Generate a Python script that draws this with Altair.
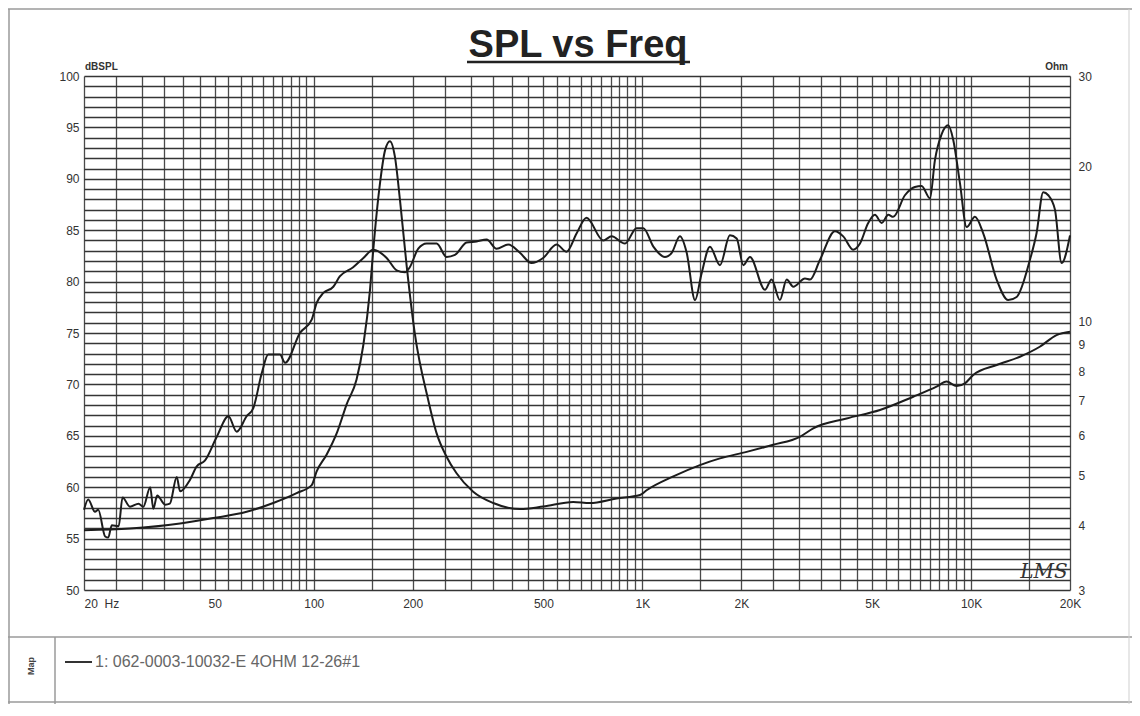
import altair as alt
import pandas as pd

# ---- data ----
spl_freq = [20, 20.6, 21.6, 22.1, 23.2, 23.7, 24.3, 25.5, 26.2, 27.6, 29.3, 30.3, 31.8, 32.5, 33.4,
            35.3, 36.5, 38.3, 39.2, 42.0, 44.0, 46.7, 50.7, 55.0, 58.3, 62.5, 65.5, 69.5, 72.7, 78.9,
            81.8, 90.8, 98.6, 102, 107, 114.7, 120, 131.8, 141.6, 151.8, 166.7, 178.8, 189.6, 196, 208,
            220.6, 236.6, 253.6, 269, 291.8, 313, 335.8, 360, 390.8, 424, 460, 499, 548, 588, 631,
            676, 760, 806, 885, 960, 1007, 1080, 1171, 1228, 1301, 1364, 1446, 1514, 1605, 1722,
            1846, 1936, 2028, 2124, 2360, 2472, 2620, 2748, 2878, 3124, 3236, 3468, 3854, 4084, 4376,
            4592, 4864, 5100, 5346, 5600, 5794, 6292, 6746, 7072, 7498, 7762, 8128, 8522, 8824, 9248,
            9696, 10274, 10890, 11960, 12972, 13762, 15100, 15820, 16580, 17180, 18000, 18860, 20000]
spl_db = [57.8, 58.8, 57.6, 57.8, 55.2, 55.1, 56.3, 56.2, 59.0, 58.1, 58.4, 58.1, 60.0, 57.9, 59.2,
          58.3, 58.4, 61.0, 59.6, 60.7, 62.0, 62.6, 64.9, 66.9, 65.4, 66.9, 67.7, 71.1, 72.9, 72.9,
          72.1, 75.0, 76.3, 77.9, 78.9, 79.5, 80.5, 81.4, 82.3, 83.1, 82.3, 81.1, 80.9, 81.4, 83.2,
          83.7, 83.7, 82.4, 82.6, 83.8, 83.9, 84.1, 83.2, 83.6, 82.8, 81.8, 82.3, 83.6, 82.9, 84.7,
          86.2, 84.0, 84.4, 83.7, 85.2, 85.2, 83.4, 82.4, 82.8, 84.4, 82.8, 78.2, 80.8, 83.4, 81.6,
          84.5, 84.2, 81.6, 82.4, 79.2, 80.2, 78.2, 80.2, 79.5, 80.3, 80.2, 82.1, 84.9, 84.4, 83.1,
          83.7, 85.7, 86.5, 85.7, 86.5, 86.3, 88.4, 89.2, 89.3, 88.1, 91.8, 94.3, 95.2, 93.8, 89.6,
          85.3, 86.3, 84.7, 80.2, 78.2, 78.5, 82.1, 84.7, 88.7, 88.4, 87.0, 81.8, 84.5]

imp_freq = [20, 27.6, 39.2, 49.5, 62.5, 75.3, 88.7, 98.6, 102, 109.4, 118, 126, 135, 141.6, 148.3,
            151.8, 159, 164.8, 170.6, 176.6, 183, 191.8, 203, 223, 236.6, 253.6, 272, 305.6, 351.6,
            424, 499, 616, 692, 834, 983, 1030, 1242, 1496, 1722, 2076, 2500, 3014, 3310, 4182, 5282,
            6668, 7852, 8422, 9038, 9576, 10152, 11968, 14080, 16180, 18200, 20000]
imp_ohm = [3.92, 3.95, 4.04, 4.14, 4.26, 4.43, 4.63, 4.80, 5.1, 5.5, 6.1, 6.9, 7.7, 9.0, 11.5,
           13.8, 18.5, 21.5, 22.4, 20.9, 17.2, 12.8, 9.47, 7.03, 6.05, 5.45, 5.06, 4.66, 4.43,
           4.31, 4.36, 4.45, 4.43, 4.52, 4.59, 4.69, 4.99, 5.25, 5.41, 5.57, 5.75, 5.96, 6.19, 6.47, 6.72,
           7.13, 7.46, 7.63, 7.48, 7.57, 7.86, 8.22, 8.53, 8.92, 9.40, 9.54]

# ---- axis ticks / labels ----
x_grid = (list(range(20, 101, 5)) + list(range(150, 1001, 50))
          + list(range(1500, 10001, 500)) + [15000, 20000])
x_label_values = [20, 50, 100, 200, 500, 1000, 2000, 5000, 10000, 20000]
x_label_texts = ["20\u00a0\u00a0Hz", "50", "100", "200", "500", "1K", "2K", "5K", "10K", "20K"]
y_left_grid = list(range(50, 101))
y_right_values = [3, 4, 5, 6, 7, 8, 9, 10, 20, 30]

title_text = "SPL vs Freq"
legend_text = "1: 062-0003-10032-E 4OHM 12-26#1"

W, H = 986, 514
FONT = "Liberation Sans"

spl_df = pd.DataFrame({"freq": spl_freq, "spl": spl_db})
imp_df = pd.DataFrame({"freq": imp_freq, "ohm": imp_ohm})

x_label_expr = " : ".join(f"datum.value == {v} ? '{t}'" for v, t in zip(x_label_values, x_label_texts)) + " : ''"

x_scale = alt.Scale(type="log", domain=[20, 20000], nice=False)
x_axis = alt.Axis(values=x_grid, grid=True, gridColor="#4a4a4a", gridWidth=1.3, ticks=False, domain=False,
                  labelExpr=x_label_expr, labelOverlap=False, labelFlush=False, labelFontSize=12,
                  labelFont=FONT, labelColor="#333", labelPadding=8, title=None,
                  labelAlign={"condition": {"test": "datum.value == 20", "value": "left"}, "value": "center"})

spl = alt.Chart(spl_df).mark_line(color="#1c1c1c", strokeWidth=2, interpolate="monotone").encode(
    x=alt.X("freq:Q", scale=x_scale, axis=x_axis),
    y=alt.Y("spl:Q", scale=alt.Scale(domain=[50, 100], nice=False, zero=False),
            axis=alt.Axis(values=y_left_grid, grid=True, gridColor="#353535", gridWidth=1.5, ticks=False,
                          domain=False, labelExpr="datum.value % 5 == 0 ? datum.label : ''",
                          labelOverlap=False, labelFontSize=12, labelFont=FONT, labelColor="#333",
                          labelPadding=5, title=None)),
)

imp = alt.Chart(imp_df).mark_line(color="#1c1c1c", strokeWidth=2, interpolate="monotone").encode(
    x=alt.X("freq:Q", scale=x_scale, axis=x_axis),
    y=alt.Y("ohm:Q", scale=alt.Scale(type="log", domain=[3, 30], nice=False),
            axis=alt.Axis(orient="right", values=y_right_values, grid=False, ticks=False, domain=False,
                          labelExpr="'' + datum.value", labelOverlap=False, labelFontSize=12,
                          labelFont=FONT, labelColor="#333", labelPadding=8, title=None)),
)


def one():
    return alt.Data(values=[{"k": 1}])


def text(txt, x, y, font=FONT, **kw):
    return alt.Chart(one()).mark_text(text=txt, font=font, **kw).encode(x=alt.value(x), y=alt.value(y))


def hrule(x1, x2, y, color="#9a9a9a", w=1.5):
    return alt.Chart(one()).mark_rule(color=color, strokeWidth=w).encode(
        x=alt.value(x1), x2=alt.value(x2), y=alt.value(y))


def vrule(x, y1, y2, color="#9a9a9a", w=1.5):
    return alt.Chart(one()).mark_rule(color=color, strokeWidth=w).encode(
        x=alt.value(x), y=alt.value(y1), y2=alt.value(y2))


decor = [
    # frame
    hrule(-76, 1056, -67),
    vrule(-75, -67, 640),
    hrule(-76, 1056, 561),
    hrule(-76, 1056, 626),
    vrule(-29, 561, 640),
    vrule(1045, -67, 640, color="#cfcfcf", w=1),
    # title
    text(title_text, 494, -19, fontSize=38, fontWeight="bold", color="#222", align="center",
         baseline="alphabetic"),
    hrule(383, 606, -14, color="#222", w=2.5),
    # axis units
    text("dBSPL", 1, -6, fontSize=10, fontWeight="bold", color="#333", align="left", baseline="alphabetic"),
    text("Ohm", 984, -6, fontSize=10, fontWeight="bold", color="#333", align="right", baseline="alphabetic"),
    # signature
    text("LMS", 960, 496, font="DejaVu Serif", fontSize=20, fontStyle="italic", color="#333",
         align="center", baseline="middle"),
    # legend box
    text("Map", -53, 590, fontSize=9, fontWeight="bold", color="#444", angle=270,
         align="center", baseline="middle"),
    hrule(-19, 8, 586, color="#333", w=2),
    text(legend_text, 11, 586, fontSize=16, color="#666", align="left", baseline="middle"),
]

chart = alt.layer(spl, imp, *decor).resolve_scale(y="independent").properties(
    width=W, height=H,
    autosize=alt.AutoSizeParams(type="none"),
    padding={"left": 76, "top": 68, "right": 62, "bottom": 114},
    background="white",
).configure_view(strokeWidth=0)

chart.save("out.html", embed_options={"renderer": "svg", "actions": False})
